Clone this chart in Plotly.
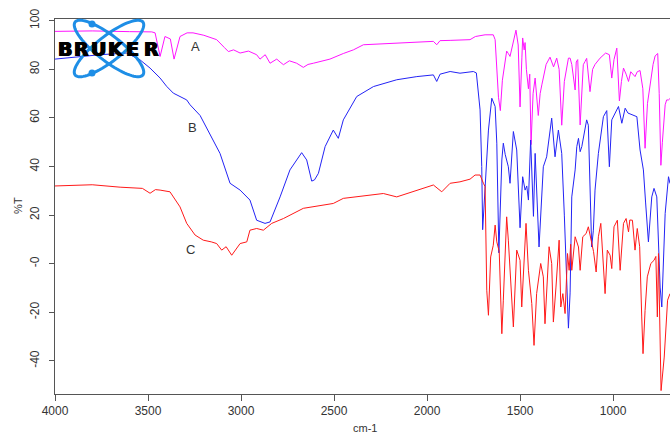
import numpy as np
import plotly.graph_objects as go

# ---------------- data ----------------
A_WN = [4000, 3800, 3600, 3480, 3462, 3435, 3409, 3380, 3360, 3328, 3290, 3258, 3200, 3131, 3090, 3068,
        3040, 3005, 2960, 2916, 2898, 2870, 2844, 2808, 2790, 2772, 2740, 2701, 2665, 2640, 2611, 2522,
        2450, 2396, 2342, 2250, 2163, 2060, 1966, 1948, 1930, 1876, 1823, 1769, 1740, 1688, 1644, 1634,
        1616, 1606, 1595, 1585, 1572, 1563, 1554, 1540, 1522, 1510, 1500, 1490, 1486, 1478, 1473, 1466,
        1455, 1448, 1441, 1430, 1419, 1402, 1392, 1383, 1360, 1339, 1320, 1303, 1290, 1276, 1262, 1240,
        1231, 1222, 1204, 1198, 1190, 1177, 1160, 1151, 1142, 1124, 1110, 1097, 1070, 1040, 1020, 1007,
        995, 980, 966, 955, 944, 930, 917, 905, 882, 870, 855, 840, 828, 815, 801, 785, 774, 760, 752,
        743, 735, 720, 712, 702, 694]
A_T = [95.6, 95.8, 95.5, 95.4, 95.0, 85.3, 93.5, 92.5, 84.2, 93.5, 95.0, 95.0, 94.0, 92.2, 89.0, 87.3,
       88.0, 86.7, 87.5, 86.0, 84.2, 86.0, 82.5, 84.2, 83.0, 81.9, 83.5, 82.5, 80.8, 82.0, 82.5, 84.2,
       86.5, 88.0, 90.1, 90.5, 90.8, 91.2, 91.5, 90.1, 91.8, 91.9, 92.2, 92.2, 93.5, 94.2, 94.2, 92.2,
       68.5, 63.0, 75.5, 80.0, 87.5, 86.5, 85.3, 90.0, 96.1, 90.0, 64.5, 85.0, 92.9, 88.0, 91.0, 80.0,
       72.0, 78.0, 49.0, 70.0, 76.4, 61.0, 70.0, 73.6, 82.0, 85.0, 81.0, 84.6, 80.0, 57.0, 75.0, 84.6,
       84.6, 82.0, 71.5, 83.0, 84.0, 57.1, 81.9, 83.2, 84.5, 70.8, 80.0, 82.0, 84.6, 86.7, 86.0, 76.4,
       84.0, 88.7, 67.0, 75.0, 80.5, 78.0, 75.0, 79.0, 77.0, 79.0, 79.5, 72.0, 47.5, 66.0, 74.3, 82.0,
       85.5, 86.5, 70.0, 40.5, 50.0, 65.4, 67.4, 67.4, 68.0]

B_WN = [4000, 3900, 3758, 3615, 3543, 3489, 3435, 3400, 3364, 3292, 3274, 3220, 3167, 3113, 3059, 3005,
        2952, 2916, 2871, 2844, 2790, 2737, 2674, 2647, 2620, 2605, 2584, 2548, 2504, 2477, 2450, 2378,
        2288, 2163, 2055, 1966, 1948, 1930, 1876, 1823, 1751, 1735, 1715, 1706, 1701, 1695, 1688, 1670,
        1652, 1634, 1625, 1614, 1598, 1590, 1580, 1563, 1554, 1536, 1518, 1500, 1486, 1473, 1464, 1455,
        1443, 1428, 1419, 1398, 1375, 1357, 1330, 1312, 1294, 1276, 1262, 1249, 1240, 1231, 1222, 1204,
        1195, 1186, 1177, 1168, 1142, 1133, 1124, 1115, 1106, 1097, 1079, 1061, 1052, 1034, 1020, 1007,
        989, 971, 953, 935, 920, 899, 872, 855, 837, 825, 810, 792, 780, 765, 747, 738, 720, 702, 694]
B_T = [84.2, 85.0, 86.0, 86.7, 83.9, 80.5, 76.4, 73.0, 70.2, 67.4, 65.4, 61.0, 53.0, 45.4, 33.1, 30.3,
       26.2, 17.9, 16.6, 17.2, 27.5, 38.6, 45.7, 42.7, 34.0, 34.5, 37.2, 48.2, 55.0, 51.6, 59.2, 68.8,
       72.9, 75.7, 77.0, 77.7, 75.0, 78.0, 79.1, 78.4, 79.1, 78.5, 63.3, 40.0, 14.0, 22.0, 29.0, 55.0,
       68.1, 64.7, 49.6, 4.5, 42.7, 49.6, 45.0, 39.9, 33.1, 54.4, 46.8, 14.8, 35.8, 30.3, 32.0, 26.2,
       50.9, 19.5, 45.4, 6.9, 39.9, 44.0, 59.9, 44.0, 55.0, 45.4, 20.0, -11.0, -26.5, -12.0, 27.5, 38.6,
       48.2, 51.6, 46.1, 48.2, 59.2, 57.0, 35.8, 6.9, 13.8, 30.3, 45.4, 55.0, 60.5, 63.0, 39.9, 59.2,
       62.0, 64.7, 57.8, 64.0, 62.0, 61.2, 60.5, 46.8, 38.6, 25.0, 9.0, 27.5, 31.0, 27.5, -9.6, -17.8,
       20.7, 35.8, 33.0]

C_WN = [4000, 3800, 3650, 3530, 3489, 3460, 3435, 3382, 3328, 3292, 3247, 3203, 3160, 3131, 3104, 3080,
        3050, 3005, 2969, 2952, 2916, 2880, 2835, 2772, 2665, 2504, 2450, 2235, 2163, 2055, 1966, 1921,
        1876, 1823, 1769, 1742, 1715, 1697, 1688, 1679, 1670, 1658, 1644, 1634, 1625, 1612, 1598, 1590,
        1572, 1563, 1545, 1536, 1518, 1500, 1491, 1468, 1455, 1437, 1425, 1411, 1389, 1375, 1366, 1344,
        1330, 1321, 1307, 1290, 1281, 1270, 1258, 1245, 1236, 1228, 1222, 1204, 1186, 1177, 1163, 1145,
        1133, 1120, 1105, 1091, 1079, 1066, 1052, 1043, 1031, 1016, 1007, 995, 977, 962, 944, 930, 917,
        910, 896, 882, 870, 857, 846, 839, 828, 816, 797, 780, 770, 762, 756, 748, 742, 725, 707, 694]
C_T = [32.0, 32.5, 31.5, 31.0, 29.0, 30.5, 30.3, 29.6, 23.4, 16.6, 11.8, 9.7, 9.0, 8.3, 5.6, 7.0,
       3.5, 8.3, 9.0, 13.8, 14.5, 13.8, 16.6, 18.6, 22.8, 24.8, 26.9, 28.9, 27.5, 30.3, 32.4, 29.6,
       33.1, 33.7, 34.8, 36.5, 36.5, 33.1, 31.7, -10.9, -21.2, 2.8, 7.6, 15.9, 9.0, 5.0, -28.8, -15.0,
       19.3, 9.7, -16.4, -26.0, 5.6, 1.4, -17.8, 16.6, -2.7, -16.4, -33.6, -12.3, 0.1, -5.4, -24.7, 7.0,
       0.1, -24.0, -9.6, 9.7, -17.8, -12.3, -20.5, 4.2, -2.7, 8.0, -2.7, 11.1, 6.9, -2.7, 11.1, 12.4,
       15.2, 9.7, 5.0, -3.4, 11.1, 16.6, 1.4, -12.3, 5.6, 3.5, -2.0, 15.2, 17.9, -2.7, 16.6, 18.6, 13.1,
       18.0, 17.9, 5.6, 14.5, 7.0, -21.9, -37.0, -19.2, -5.4, 0.1, 1.4, 3.0, -21.9, 4.2, -30.2, -52.2,
       -38.4, -15.0, -12.3]

SERIES_NAMES = ["A", "B", "C"]
SERIES_COLORS = ["rgb(255,20,255)", "rgb(35,35,245)", "rgb(255,25,25)"]
LABEL_WN = [3247, 3260, 3274]
LABEL_T = [89.2, 56.2, 5.9]

X_TICKS = [4000, 3500, 3000, 2500, 2000, 1500, 1000]
Y_TICKS = [100, 80, 60, 40, 20, 0, -20, -40]
Y_TICKTEXT = ["100", "80", "60", "40", "20", "-0", "-20", "-40"]
X_TITLE = "cm-1"
Y_TITLE = "%T"
LOGO_TEXT = "BRUKER"

# ---------------- layout geometry ----------------
W, H = 670, 434
ML, MR, MT, MB = 55, 0, 19, 40
PW, PH = W - ML - MR, H - MT - MB


def to_paper(px, py):
    return (px - ML) / PW, (H - MB - py) / PH


fig = go.Figure()
for wn, t, name, col in zip([A_WN, B_WN, C_WN], [A_T, B_T, C_T], SERIES_NAMES, SERIES_COLORS):
    fig.add_trace(go.Scatter(x=wn, y=t, mode="lines", name=name,
                             line=dict(color=col, width=1), showlegend=False, hoverinfo="skip"))

annotations = []
for name, x, y in zip(SERIES_NAMES, LABEL_WN, LABEL_T):
    annotations.append(dict(x=x, y=y, xref="x", yref="y", text=name, showarrow=False,
                            xanchor="center", yanchor="middle",
                            font=dict(family="Liberation Sans", size=13, color="#333")))

# axis titles
tx, ty = to_paper(365, 428)
annotations.append(dict(x=tx, y=ty, xref="paper", yref="paper", text=X_TITLE, showarrow=False,
                        xanchor="center", yanchor="middle",
                        font=dict(family="Liberation Sans", size=11, color="#333")))
tx, ty = to_paper(18.4, 205.5)
annotations.append(dict(x=tx, y=ty, xref="paper", yref="paper", text=Y_TITLE, showarrow=False,
                        xanchor="center", yanchor="middle", textangle=-90,
                        font=dict(family="Liberation Sans", size=11, color="#333")))

# ---------------- Bruker logo (decoration) ----------------
shapes = []
cx, cy = 109, 48.5
a, b = 43, 12.5
tt = np.linspace(0, 2 * np.pi, 80)
for ang in (38, -38):
    th = np.radians(ang)
    xs = cx + a * np.cos(th) * np.cos(tt) - b * np.sin(th) * np.sin(tt)
    ys = cy + a * np.sin(th) * np.cos(tt) + b * np.cos(th) * np.sin(tt)
    pts = [to_paper(x, y) for x, y in zip(xs, ys)]
    path = "M " + " L ".join(f"{p[0]:.5f},{p[1]:.5f}" for p in pts) + " Z"
    shapes.append(dict(type="path", path=path, xref="paper", yref="paper",
                       line=dict(color="#1e8ee6", width=3), layer="above"))
for dx, dy in [(92, 24), (92, 73)]:
    x0, y0 = to_paper(dx - 3.5, dy + 3.5)
    x1, y1 = to_paper(dx + 3.5, dy - 3.5)
    shapes.append(dict(type="circle", xref="paper", yref="paper", x0=x0, y0=y0, x1=x1, y1=y1,
                       fillcolor="#1e8ee6", line=dict(width=0), layer="above"))

letter_centers = [64.5, 81, 98.5, 115.5, 132.5, 151]
for ch, lx in zip(LOGO_TEXT, letter_centers):
    px_, py_ = to_paper(lx, 49)
    annotations.append(dict(x=px_, y=py_, xref="paper", yref="paper", text=ch,
                            showarrow=False, xanchor="center", yanchor="middle",
                            font=dict(family="DejaVu Sans", size=19, color="#000", weight=900,
                                      shadow="0.8px 0px 0px #000, -0.8px 0px 0px #000")))

fig.update_layout(
    width=W, height=H,
    margin=dict(l=ML, r=MR, t=MT, b=MB),
    paper_bgcolor="white", plot_bgcolor="white",
    shapes=shapes, annotations=annotations,
    xaxis=dict(range=[4000, 694], tickvals=X_TICKS, ticktext=[str(v) for v in X_TICKS],
               ticks="outside", ticklen=6, tickcolor="#555", showline=True, linecolor="#555",
               linewidth=1, mirror=True, showgrid=False, zeroline=False,
               tickfont=dict(family="Liberation Sans", size=12, color="#333")),
    yaxis=dict(range=[-53.6, 100.7], tickvals=Y_TICKS, ticktext=Y_TICKTEXT, tickangle=-90,
               ticks="outside", ticklen=5, tickcolor="#555", showline=True, linecolor="#555",
               linewidth=1, mirror=False, showgrid=False, zeroline=False, ticklabelstandoff=5,
               tickfont=dict(family="Liberation Sans", size=12, color="#333")),
)

fig.write_html("out.html")
